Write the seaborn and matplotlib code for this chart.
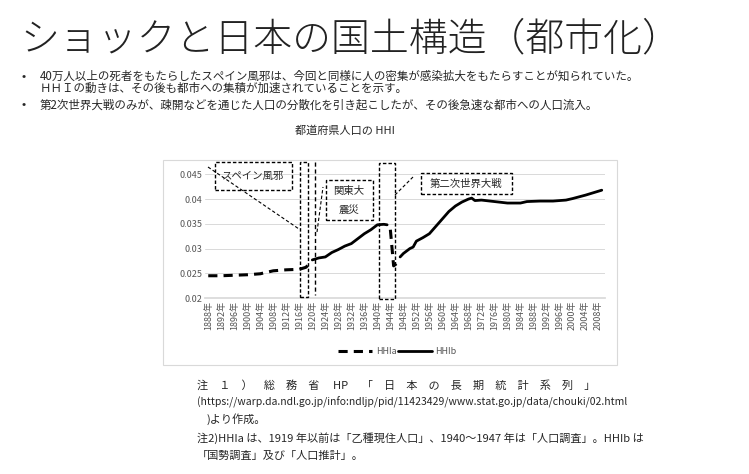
import numpy as np
import pandas as pd
import seaborn as sns
import matplotlib.pyplot as plt
from matplotlib.patches import Rectangle
from matplotlib.lines import Line2D

sns.set_theme(style="white")
plt.rcParams['font.family'] = ['Noto Sans CJK JP', 'DejaVu Sans']

# HHIa (dashed) segments
hhia_years_1 = [1888, 1892, 1896, 1900, 1904, 1908, 1912, 1916, 1918, 1919, 1920]
hhia_vals_1 = [0.0245, 0.0245, 0.0246, 0.0247, 0.0249, 0.0255, 0.0257, 0.0258, 0.0262, 0.0268, 0.0270]
hhia_years_2 = [1944, 1945, 1946, 1947]
hhia_vals_2 = [0.0338, 0.0265, 0.0270, 0.0275]
# HHIb (solid) segments
hhib_years_1 = [1920, 1922, 1924, 1926, 1928, 1930, 1932, 1934, 1936, 1938, 1940, 1942, 1943]
hhib_vals_1 = [0.0277, 0.0281, 0.0283, 0.0292, 0.0298, 0.0305, 0.0310, 0.0320, 0.0330, 0.0338, 0.0348, 0.0349, 0.0348]
hhib_years_2 = [1947, 1948, 1950, 1951, 1952, 1954, 1956, 1958, 1960, 1962, 1964, 1966, 1968,
                1969, 1970, 1972, 1976, 1980, 1984, 1986, 1990, 1994, 1998, 2000, 2004, 2009]
hhib_vals_2 = [0.0283, 0.0290, 0.0300, 0.0303, 0.0315, 0.0322, 0.0330, 0.0345, 0.0360, 0.0375, 0.0386,
               0.0394, 0.0400, 0.0402, 0.0397, 0.0398, 0.0395, 0.0392, 0.0392, 0.0395, 0.0396, 0.0396,
               0.0398, 0.0401, 0.0408, 0.0418]
tick_years = list(range(1888, 2009, 4))

W, H = 749, 474
fig = plt.figure(figsize=(W / 100, H / 100), dpi=100)
ax = fig.add_axes([205 / W, 1 - 298 / H, (605 - 205) / W, (298 - 162) / H])

for yrs, vals in [(hhia_years_1, hhia_vals_1), (hhia_years_2, hhia_vals_2)]:
    sns.lineplot(x=yrs, y=vals, ax=ax, color="black", lw=2.2, linestyle=(0, (3, 2)))
for yrs, vals in [(hhib_years_1, hhib_vals_1), (hhib_years_2, hhib_vals_2)]:
    sns.lineplot(x=yrs, y=vals, ax=ax, color="black", lw=2.0)

ax.set_xlim(1887, 2010)
ax.set_ylim(0.02, 0.0475)
ax.set_yticks([0.02, 0.025, 0.03, 0.035, 0.04, 0.045])
ax.set_yticklabels(["0.02", "0.025", "0.03", "0.035", "0.04", "0.045"], fontsize=6.5, color="#555555")
ax.set_xticks(tick_years)
ax.set_xticklabels([f"{y}年" for y in tick_years], rotation=90, fontsize=6.5, color="#555555")
ax.grid(axis="y", color="#d9d9d9", lw=0.7)
for s in ["top", "right", "left"]:
    ax.spines[s].set_visible(False)
ax.spines["bottom"].set_color("#d9d9d9")
ax.tick_params(length=0, pad=2)

def px(x, y):
    return x / W, 1 - y / H

def rect(x0, y0, x1, y1):
    a, b = px(x0, y1)
    fig.add_artist(Rectangle((a, b), (x1 - x0) / W, (y1 - y0) / H, transform=fig.transFigure,
                             fill=False, ec="black", lw=1.0, ls=(0, (2.5, 1.5))))

def line(x0, y0, x1, y1, lw=0.8):
    a, b = px(x0, y0)
    c, d = px(x1, y1)
    fig.add_artist(Line2D([a, c], [b, d], transform=fig.transFigure, color="black", lw=lw, ls=(0, (3, 2))))

# chart frame
a, b = px(163, 365)
fig.add_artist(Rectangle((a, b), (617 - 163) / W, (365 - 160) / H, transform=fig.transFigure,
                         fill=False, ec="#d9d9d9", lw=0.8))

rect(215, 162, 292, 190)
fig.text(*px(253, 176), "スペイン風邪", fontsize=7.5, ha="center", va="center")
rect(300, 162, 308, 297)
line(315, 162, 315, 295, lw=1.0)
rect(326, 180, 373, 220)
fig.text(*px(349, 191), "関東大", fontsize=7.5, ha="center", va="center")
fig.text(*px(349, 210), "震災", fontsize=7.5, ha="center", va="center")
rect(379, 163, 395, 299)
rect(421, 173, 512, 194)
fig.text(*px(466, 184), "第二次世界大戦", fontsize=7.5, ha="center", va="center")
line(208, 167, 299, 229)
line(317, 232, 323, 187)
line(395, 195, 413, 177)

fig.text(*px(345, 131), "都道府県人口の HHI", fontsize=8, ha="center", va="center")

# legend
line(338, 351, 372, 351, lw=2.2)
fig.text(*px(376, 351), "HHIa", fontsize=6.5, color="#555555", va="center")
a, b = px(398, 351)
c, d = px(432, 351)
fig.add_artist(Line2D([a, c], [b, d], transform=fig.transFigure, color="black", lw=2))
fig.text(*px(435, 351), "HHIb", fontsize=6.5, color="#555555", va="center")

fig.text(*px(20, 40), "ショックと日本の国土構造（都市化）", fontsize=28, va="center",
         color="#222222", fontweight="light")
fig.text(*px(22, 76), "•", fontsize=9, va="center")
fig.text(*px(40, 76), "40万人以上の死者をもたらしたスペイン風邪は、今回と同様に人の密集が感染拡大をもたらすことが知られていた。",
         fontsize=8.3, va="center")
fig.text(*px(40, 88), "ＨＨＩの動きは、その後も都市への集積が加速されていることを示す。", fontsize=8.3, va="center")
fig.text(*px(22, 105), "•", fontsize=9, va="center")
fig.text(*px(40, 105), "第2次世界大戦のみが、疎開などを通じた人口の分散化を引き起こしたが、その後急速な都市への人口流入。",
         fontsize=8.3, va="center")

fig.text(*px(197, 385), "注　１　）　総　務　省　 HP 　「　日　本　の　長　期　統　計　系　列　」", fontsize=8, va="center")
fig.text(*px(197, 402), "(https://warp.da.ndl.go.jp/info:ndljp/pid/11423429/www.stat.go.jp/data/chouki/02.html", fontsize=7.5, va="center")
fig.text(*px(207, 419), ")より作成。", fontsize=8, va="center")
fig.text(*px(197, 438), "注2)HHIa は、1919 年以前は「乙種現住人口」、1940～1947 年は「人口調査」。HHIb は", fontsize=8, va="center")
fig.text(*px(197, 456), "「国勢調査」及び「人口推計」。", fontsize=8, va="center")

fig.savefig("out.png", dpi=100)
